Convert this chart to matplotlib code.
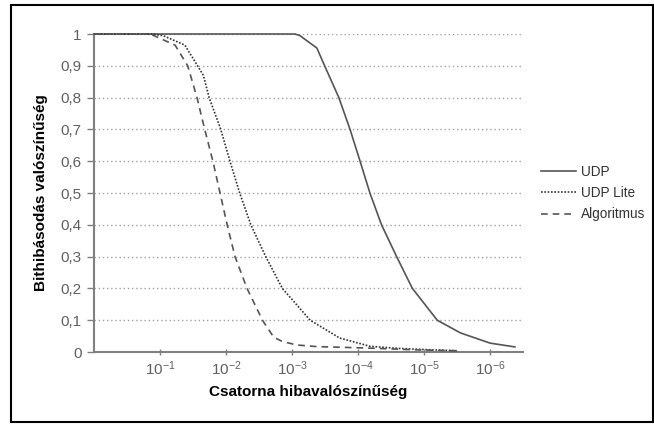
import matplotlib.pyplot as plt
from matplotlib.patches import Rectangle

plt.rcParams["font.family"] = ["Liberation Sans", "DejaVu Sans"]
plt.rcParams["mathtext.default"] = "regular"

# channel error probability (x) and bit error probability (y)
udp_x = [1.0, 9.0e-4, 7.6e-4, 4.2e-4, 3.2e-4, 1.95e-4, 1.32e-4, 9.3e-5, 6.6e-5,
         4.4e-5, 2.6e-5, 1.5e-5, 6.3e-6, 2.8e-6, 1.0e-6, 4.2e-7]
udp_y = [1.0, 1.0, 0.995, 0.956, 0.9, 0.8, 0.7, 0.6, 0.5,
         0.4, 0.3, 0.2, 0.1, 0.06, 0.028, 0.016]

lite_x = [1.0, 0.13, 0.09, 0.042, 0.022, 0.018, 0.012, 8.7e-3, 6.2e-3, 4.2e-3,
          2.5e-3, 1.4e-3, 5.3e-4, 1.9e-4, 6.6e-5, 2.3e-5, 8.1e-6, 3.2e-6]
lite_y = [1.0, 1.0, 0.995, 0.965, 0.87, 0.8, 0.7, 0.6, 0.5, 0.4,
          0.3, 0.2, 0.1, 0.044, 0.018, 0.011, 0.007, 0.004]

alg_x = [1.0, 0.14, 0.059, 0.038, 0.0275, 0.021, 0.0158, 0.0123, 9.6e-3, 7.3e-3,
         4.8e-3, 2.8e-3, 1.9e-3, 1.4e-3, 8.4e-4, 4.2e-4, 1.9e-4, 6.3e-5, 1.4e-5,
         3.2e-6]
alg_y = [1.0, 1.0, 0.965, 0.9, 0.8, 0.7, 0.6, 0.5, 0.4, 0.3,
         0.2, 0.1, 0.047, 0.033, 0.022, 0.017, 0.015, 0.012, 0.007,
         0.004]

y_ticks = [0, 0.1, 0.2, 0.3, 0.4, 0.5, 0.6, 0.7, 0.8, 0.9, 1]
y_labels = ["0", "0,1", "0,2", "0,3", "0,4", "0,5", "0,6", "0,7", "0,8", "0,9", "1"]
x_ticks = [1e-1, 1e-2, 1e-3, 1e-4, 1e-5, 1e-6]
x_labels = ["$10^{-1}$", "$10^{-2}$", "$10^{-3}$", "$10^{-4}$", "$10^{-5}$", "$10^{-6}$"]

fig = plt.figure(figsize=(6.54, 4.24), dpi=100)
ax = fig.add_axes([0.1437, 0.1698, 0.656, 0.75])

for y in y_ticks[1:]:
    ax.axhline(y, color="#a0a0a0", lw=1.0, ls=(0, (1, 2)), zorder=1)

ax.plot(udp_x, udp_y, color="#555555", lw=1.2, label="UDP", clip_on=False, zorder=3)
ax.plot(lite_x, lite_y, color="#333333", lw=1.2, ls=(0, (1, 1)), label="UDP Lite",
        clip_on=False, zorder=3)
ax.plot(alg_x, alg_y, color="#555555", lw=1.2, ls=(0, (4, 3)), label="Algoritmus",
        clip_on=False, zorder=3)

ax.set_xscale("log")
ax.set_xlim(1, 10 ** -6.5)
ax.set_ylim(0, 1)
ax.set_xticks(x_ticks)
ax.set_xticklabels(x_labels)
ax.minorticks_off()
ax.set_yticks(y_ticks)
ax.set_yticklabels(y_labels)

for side in ["top", "right"]:
    ax.spines[side].set_visible(False)
for side in ["left", "bottom"]:
    ax.spines[side].set_color("#808080")
    ax.spines[side].set_linewidth(1.5)

ax.tick_params(axis="y", direction="out", length=5, width=1, color="#808080",
               labelsize=11, labelcolor="#606060", pad=4)
ax.tick_params(axis="x", direction="inout", length=5, width=1, color="#808080",
               labelsize=11, labelcolor="#606060", pad=3)

ax.set_xlabel("Csatorna hibavalószínűség", fontsize=11, fontweight="bold", labelpad=5)
ax.set_ylabel("Bithibásodás valószínűség", fontsize=11, fontweight="bold", labelpad=9)

ax.legend(loc="center left", bbox_to_anchor=(1.0, 0.5), frameon=False, fontsize=9.8,
          handlelength=2.6, handletextpad=0.35, labelspacing=0.55, labelcolor="#333333",
          borderaxespad=0.9)

fig.patches.append(Rectangle((0.0168, 0.005), 0.982, 0.983, transform=fig.transFigure,
                             fill=False, edgecolor="black", lw=1.5))

fig.savefig("out.png", dpi=100)
